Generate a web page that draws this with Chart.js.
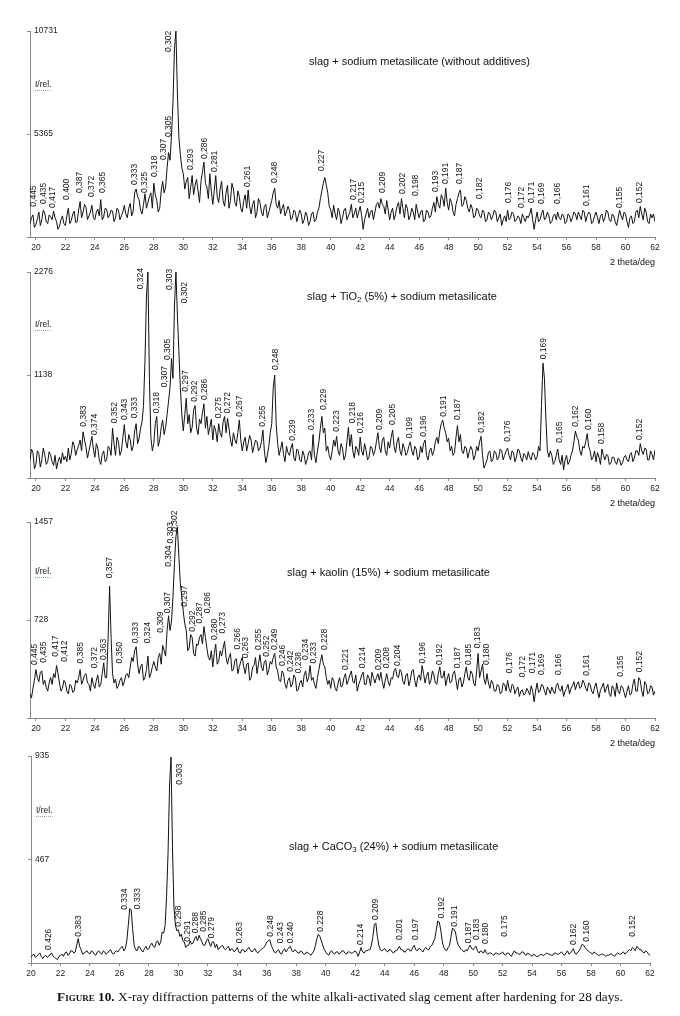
<!DOCTYPE html>
<html>
<head>
<meta charset="utf-8">
<title>XRD patterns</title>
<script src="https://cdn.jsdelivr.net/npm/chart.js@4.4.1/dist/chart.umd.min.js"></script>
<style>
  body { margin: 0; background: #fff; width: 680px; height: 1016px; position: relative; overflow: hidden; }
  .panel { position: absolute; left: 0; width: 680px; }
  #caption {
    position: absolute; left: 0; width: 680px; top: 989px; text-align: center;
    font: 13.3px "Liberation Serif", "Times New Roman", serif; color: #111;
  }
  #caption b { font-weight: bold; }
</style>
</head>
<body>
<div class="panel" style="top:0;height:275px"><canvas id="scanSlag"></canvas></div>
<div class="panel" style="top:250px;height:265px"><canvas id="scanTio"></canvas></div>
<div class="panel" style="top:500px;height:255px"><canvas id="scanKaolin"></canvas></div>
<div class="panel" style="top:740px;height:255px"><canvas id="scanCaco3"></canvas></div>
<div id="caption"><b><span style="font-variant:small-caps">Figure</span> 10.</b> X-ray diffraction patterns of the white alkali-activated slag cement after hardening for 28 days.</div>
<script>
const STEP = 0.1;
const THETA_END = 62;
const THETA_TICKS = [20, 22, 24, 26, 28, 30, 32, 34, 36, 38, 40, 42, 44, 46, 48, 50, 52, 54, 56, 58, 60, 62];

// slag + sodium metasilicate, 19.6 .. 62 deg, one row per 2 deg
const slagStart = 19.6;
const slagCounts = [
  700, 1000, 1150, 500,
  650, 950, 1300, 600, 900, 1400, 1250, 800, 700, 1150, 1050, 900, 1350, 1000, 800, 400, 550, 900, 1100, 700,
  600, 1100, 1500, 700, 850, 1200, 1350, 750, 800, 1400, 1850, 1000, 1300, 1700, 1550, 900, 1100, 1300, 1650, 1000,
  900, 1300, 1450, 1100, 1950, 900, 1050, 1500, 1450, 1000, 1150, 1400, 1350, 800, 1000, 1500, 1400, 900, 1100, 1300,
  1650, 1200, 1000, 1500, 1750, 1100, 1350, 2300, 2500, 2100, 1950, 1400, 1200, 1700, 2250, 1500, 1800, 2100, 2300, 1500,
  2800, 2200, 1900, 1300, 1500, 2400, 2900, 2300, 2600, 3600, 4400, 4000, 5300, 7000, 9800, 10731, 7500, 5200, 4300, 3600,
  3300, 2500, 2900, 3100, 2000, 2600, 3200, 2200, 2700, 3000, 2400, 1800, 2900, 3400, 3900, 2800, 2600, 2000, 3300, 2400,
  1700, 2400, 3200, 2100, 1800, 2500, 2900, 1900, 1600, 2300, 2700, 1500, 1900, 2800, 2500, 1800, 1600, 2400, 2100, 1500,
  1300, 1900, 2200, 1500, 2450, 1600, 1200, 1700, 1900, 1000, 1300, 2000, 1800, 1300, 1100, 1600, 1700, 1000, 1300, 1600,
  1900, 2300, 2550, 1700, 1500, 1900, 1200, 1500, 1700, 1100, 1300, 1600, 1400, 900, 1000, 1400, 1300, 800, 1100, 1400,
  1200, 700, 900, 1300, 1100, 600, 800, 1200, 1300, 800, 900, 1300, 1500, 2000, 2400, 2800, 3100, 2700, 2300, 1600,
  1400, 1000, 1650, 1200, 900, 1500, 1300, 700, 1000, 1400, 1500, 900, 1100, 1300, 1700, 1000, 1200, 1500, 1000, 1300,
  1600, 1100, 400, 900, 1200, 1500, 1000, 1300, 1400, 900, 1300, 1700, 1800, 1500, 2000, 1700, 1600, 1200, 1900, 1400,
  900, 1300, 1500, 900, 1200, 1600, 1800, 1200, 2000, 1500, 1000, 1700, 1500, 900, 1100, 1500, 1300, 900, 1700, 1300,
  1000, 1300, 1400, 800, 900, 1400, 1300, 1000, 1100, 1500, 1800, 1300, 2100, 1700, 1500, 2200, 2000, 1600, 2550, 1800,
  1400, 2000, 1800, 1300, 1100, 1700, 2000, 2300, 2450, 1600, 1700, 2100, 1900, 1500, 1300, 1700, 1500, 1000, 1100, 1500,
  1400, 1100, 1000, 1400, 1300, 800, 900, 1300, 1200, 900, 1100, 1400, 1300, 800, 1000, 1200, 600, 900, 1100, 800,
  1400, 900, 1000, 1300, 1200, 800, 900, 1100, 1000, 700, 1200, 1000, 800, 1100, 1000, 1200, 1500, 900, 400, 900,
  1300, 800, 900, 1200, 1400, 900, 1000, 1300, 1100, 700, 800, 1100, 1200, 900, 1300, 1000, 900, 1200, 1100, 700,
  800, 1200, 1100, 800, 1000, 1300, 1200, 900, 1300, 1100, 900, 1400, 1300, 800, 1100, 1300, 1200, 700, 800, 1100,
  1300, 1000, 700, 1100, 1200, 800, 1000, 1400, 1300, 900, 800, 1200, 1100, 800, 600, 1000, 1400, 1100, 900, 1300,
  1200, 800, 500, 1000, 1100, 700, 800, 1300, 1400, 1000, 1600, 1200, 900, 1500, 1300, 800, 700, 1200, 1000, 1200,
  800,
];
const slagYTicks = [0, 5365, 10731];
const slagPeakTheta = [19.82, 20.5, 21.17, 22.08, 22.94, 23.78, 24.5, 26.72, 27.39, 28.07, 28.68, 28.98, 29.04, 30.52, 31.47, 32.14, 34.38, 36.21, 39.4, 41.53, 42.1, 43.52, 44.88, 45.78, 47.12, 47.82, 48.76, 50.12, 52.04, 52.95, 53.65, 54.31, 55.41, 57.36, 59.62, 60.93];
const slagPeakLevel = [1580, 1720, 1510, 1930, 2290, 2080, 2290, 2710, 2290, 3130, 4010, 5210, 9640, 3490, 4060, 3390, 2600, 2810, 3440, 1930, 1770, 2290, 2240, 2140, 2340, 2760, 2760, 1980, 1770, 1510, 1770, 1720, 1720, 1620, 1510, 1770];
const slagPeakText = ["0,445", "0,435", "0,417", "0,400", "0,387", "0,372", "0,365", "0,333", "0,325", "0,318", "0,307", "0,305", "0,302", "0,293", "0,286", "0,281", "0,261", "0,248", "0,227", "0,217", "0,215", "0,209", "0,202", "0,198", "0,193", "0,191", "0,187", "0,182", "0,176", "0,172", "0,171", "0,169", "0,166", "0,161", "0,155", "0,152"];

// slag + TiO2 (5%)
const tioStart = 19.6;
const tioCounts = [
  200, 320, 280, 100,
  150, 300, 270, 120, 200, 330, 260, 150, 180, 290, 250, 180, 140, 250, 100, 180, 230, 160, 280, 200,
  240, 180, 330, 200, 270, 400, 360, 250, 310, 360, 420, 300, 510, 420, 340, 220, 300, 380, 460, 320,
  230, 380, 330, 200, 150, 260, 300, 180, 200, 350, 330, 250, 550, 380, 250, 450, 400, 250, 300, 450,
  590, 400, 330, 480, 420, 300, 350, 520, 600, 380, 440, 550, 620, 800, 1300, 2000, 2276, 1100, 450, 300,
  380, 600, 680, 350, 420, 560, 640, 480, 560, 700, 850, 1000, 1320, 1100, 1900, 2276, 1800, 1400, 1000, 700,
  520, 700, 880, 600, 700, 500, 560, 750, 800, 550, 480, 650, 600, 720, 820, 550, 680, 480, 560, 650,
  420, 580, 520, 400, 600, 500, 450, 620, 680, 500, 660, 550, 420, 350, 500, 420, 380, 500, 640, 420,
  300, 400, 450, 300, 380, 470, 420, 280, 350, 420, 400, 300, 330, 400, 530, 300, 170, 250, 350, 500,
  600, 1000, 1138, 600, 380, 250, 320, 400, 260, 180, 350, 280, 250, 330, 380, 220, 190, 320, 300, 200,
  180, 300, 250, 150, 200, 280, 300, 200, 480, 250, 170, 300, 400, 550, 680, 500, 550, 300, 350, 250,
  200, 300, 420, 350, 460, 300, 250, 380, 330, 200, 250, 400, 560, 350, 480, 300, 220, 350, 320, 250,
  450, 300, 250, 380, 300, 200, 230, 350, 330, 250, 300, 400, 500, 350, 280, 420, 450, 300, 250, 400,
  330, 450, 530, 350, 280, 400, 450, 300, 250, 380, 330, 250, 280, 350, 400, 300, 250, 350, 320, 200,
  230, 350, 280, 380, 420, 250, 200, 300, 330, 250, 300, 400, 450, 380, 520, 600, 640, 550, 500, 400,
  440, 300, 350, 250, 280, 450, 580, 400, 480, 300, 270, 350, 330, 220, 290, 350, 310, 200, 250, 350,
  300, 400, 460, 250, 110, 150, 200, 280, 300, 180, 200, 300, 280, 200, 230, 320, 300, 200, 250, 300,
  330, 250, 200, 300, 280, 180, 230, 320, 300, 220, 180, 270, 250, 200, 290, 230, 200, 280, 260, 200,
  230, 350, 300, 800, 1270, 1100, 650, 300, 230, 300, 250, 150, 180, 250, 320, 200, 150, 250, 90, 200,
  250, 150, 180, 250, 300, 400, 520, 450, 420, 300, 250, 350, 330, 400, 490, 350, 300, 200, 230, 300,
  180, 280, 230, 150, 320, 250, 200, 260, 250, 150, 160, 230, 230, 180, 150, 220, 200, 140, 170, 230,
  250, 200, 180, 260, 280, 180, 220, 300, 300, 250, 380, 300, 260, 330, 320, 200, 200, 300, 260, 200,
  310,
];
const tioYTicks = [0, 1138, 2276];
const tioPeakTheta = [23.26, 24.0, 25.31, 25.99, 26.72, 27.1, 28.19, 28.75, 28.93, 29.09, 30.06, 30.18, 30.79, 31.47, 32.37, 33.01, 33.79, 35.36, 36.24, 37.41, 38.7, 39.49, 40.4, 41.46, 42.03, 43.29, 44.17, 45.33, 46.32, 47.68, 48.58, 50.24, 51.98, 54.42, 55.5, 56.64, 57.47, 58.38, 60.98];
const tioPeakLevel = [567, 475, 604, 641, 660, 2085, 715, 1002, 1304, 2077, 1930, 954, 843, 862, 660, 715, 677, 567, 1193, 412, 530, 751, 512, 604, 494, 530, 586, 439, 456, 677, 641, 501, 401, 1311, 390, 567, 530, 376, 420];
const tioPeakText = ["0,383", "0,374", "0,352", "0,343", "0,333", "0,324", "0,318", "0,307", "0,305", "0,303", "0,302", "0,297", "0,292", "0,286", "0,275", "0,272", "0,267", "0,255", "0,248", "0,239", "0,233", "0,229", "0,223", "0,218", "0,216", "0,209", "0,205", "0,199", "0,196", "0,191", "0,187", "0,182", "0,176", "0,169", "0,165", "0,162", "0,160", "0,158", "0,152"];

// slag + kaolin (15%)
const kaolinStart = 19.6;
const kaolinCounts = [
  180, 150, 220, 280,
  360, 300, 270, 340, 350, 250, 280, 230, 200, 260, 300, 250, 330, 300, 390, 330, 260, 200, 220, 280,
  260, 200, 180, 250, 240, 190, 200, 280, 260, 300, 360, 250, 280, 320, 330, 260, 250, 200, 300, 250,
  220, 280, 320, 230, 250, 330, 410, 300, 300, 600, 980, 600, 330, 260, 290, 220, 240, 280, 300, 240,
  270, 320, 330, 300, 380, 450, 420, 500, 530, 400, 330, 380, 400, 280, 300, 360, 460, 300, 330, 380,
  420, 380, 350, 450, 480, 400, 540, 500, 460, 650, 760, 650, 720, 900, 1150, 1350, 1420, 1200, 1000, 900,
  790, 700, 650, 500, 520, 620, 600, 480, 460, 550, 540, 600, 620, 550, 680, 600, 520, 450, 430, 500,
  380, 480, 550, 400, 420, 500, 460, 520, 570, 450, 400, 450, 480, 350, 360, 430, 440, 330, 380, 420,
  450, 380, 330, 400, 410, 280, 300, 380, 390, 450, 330, 400, 470, 380, 350, 420, 430, 320, 360, 420,
  400, 450, 480, 380, 350, 280, 270, 350, 330, 250, 220, 280, 300, 230, 250, 320, 300, 200, 210, 260,
  280, 230, 320, 350, 270, 300, 390, 280, 300, 250, 220, 300, 360, 420, 470, 400, 380, 300, 250, 280,
  220, 300, 280, 220, 200, 260, 300, 230, 240, 300, 330, 250, 280, 320, 350, 270, 260, 320, 200, 250,
  280, 320, 340, 250, 250, 320, 300, 240, 340, 300, 260, 300, 330, 280, 340, 270, 220, 280, 330, 270,
  240, 300, 290, 350, 370, 310, 300, 360, 340, 270, 250, 320, 330, 240, 280, 350, 360, 280, 230, 300,
  320, 280, 390, 330, 260, 310, 340, 250, 280, 350, 320, 260, 250, 330, 380, 300, 300, 350, 240, 290,
  330, 260, 270, 330, 350, 280, 210, 290, 300, 230, 260, 330, 380, 300, 280, 350, 330, 260, 240, 350,
  480, 300, 350, 400, 290, 250, 330, 260, 220, 280, 260, 200, 200, 250, 240, 180, 190, 260, 250, 200,
  280, 220, 190, 250, 240, 180, 210, 230, 160, 200, 210, 170, 180, 220, 200, 170, 240, 200, 120, 200,
  260, 190, 200, 250, 240, 200, 170, 230, 210, 180, 230, 200, 180, 240, 260, 210, 200, 240, 160, 200,
  220, 250, 180, 220, 240, 270, 210, 250, 270, 220, 230, 280, 260, 220, 200, 260, 250, 200, 180, 230,
  260, 200, 150, 210, 230, 260, 190, 220, 250, 180, 160, 240, 220, 160, 260, 200, 180, 240, 230, 190,
  150, 200, 240, 170, 180, 250, 290, 200, 200, 300, 280, 200, 160, 270, 250, 180, 190, 240, 230, 170,
  200,
];
const kaolinYTicks = [0, 728, 1457];
const kaolinPeakTheta = [19.93, 20.5, 21.36, 21.97, 23.05, 23.96, 24.57, 25.02, 25.65, 26.78, 27.58, 28.48, 28.91, 28.98, 29.16, 29.43, 30.06, 30.63, 31.13, 31.65, 32.1, 32.67, 33.66, 34.25, 35.08, 35.65, 36.21, 36.74, 37.3, 37.8, 38.32, 38.81, 39.61, 41.03, 42.16, 43.22, 43.79, 44.51, 46.23, 47.41, 48.58, 49.33, 49.96, 50.58, 52.11, 53.02, 53.7, 54.31, 55.44, 57.36, 59.69, 60.93];
const kaolinPeakLevel = [394, 411, 455, 418, 406, 369, 431, 1038, 406, 555, 555, 634, 778, 1124, 1298, 1384, 827, 641, 703, 778, 580, 629, 510, 444, 505, 455, 505, 386, 344, 332, 431, 406, 505, 357, 369, 357, 369, 386, 406, 394, 369, 394, 518, 394, 332, 302, 332, 320, 320, 314, 307, 340];
const kaolinPeakText = ["0,445", "0,435", "0,417", "0,412", "0,385", "0,372", "0,363", "0,357", "0,350", "0,333", "0,324", "0,309", "0,307", "0,304", "0,303", "0,302", "0,297", "0,292", "0,287", "0,286", "0,280", "0,273", "0,266", "0,263", "0,255", "0,252", "0,249", "0,246", "0,242", "0,238", "0,234", "0,233", "0,228", "0,221", "0,214", "0,209", "0,208", "0,204", "0,196", "0,192", "0,187", "0,185", "0,183", "0,180", "0,176", "0,172", "0,171", "0,169", "0,166", "0,161", "0,155", "0,152"];

// slag + CaCO3 (24%), 20 .. 62 deg
const caco3Start = 20;
const caco3Counts = [
  25, 35, 40, 25, 30, 40, 45, 30, 20, 30, 35, 25, 30, 40, 45, 30, 25, 20, 15, 30,
  35, 40, 30, 45, 50, 35, 40, 55, 55, 45, 50, 80, 110, 75, 60, 40, 45, 50, 55, 45,
  40, 55, 50, 40, 35, 50, 55, 45, 40, 55, 50, 40, 45, 55, 60, 45, 40, 50, 55, 50,
  60, 70, 75, 55, 65, 100, 170, 245, 240, 150, 80, 60, 55, 75, 70, 55, 50, 65, 75, 60,
  65, 80, 90, 75, 70, 95, 100, 80, 95, 140, 135, 170, 300, 500, 800, 930, 520, 250, 170, 145,
  150, 120, 130, 100, 95, 70, 80, 80, 100, 85, 90, 110, 120, 100, 125, 110, 95, 80, 80, 100,
  110, 90, 75, 95, 95, 70, 85, 60, 70, 75, 80, 65, 60, 70, 75, 55, 65, 60, 50, 60,
  70, 50, 45, 60, 60, 50, 55, 65, 70, 55, 50, 60, 65, 50, 45, 55, 60, 65, 70, 80,
  95, 100, 105, 80, 65, 50, 45, 55, 60, 45, 40, 55, 65, 50, 60, 70, 75, 55, 50, 60,
  55, 45, 45, 55, 50, 40, 40, 50, 45, 40, 35, 45, 55, 80, 110, 130, 120, 100, 80, 60,
  50, 40, 35, 50, 55, 45, 40, 50, 50, 40, 45, 55, 55, 45, 40, 50, 50, 45, 45, 50,
  55, 45, 30, 50, 70, 50, 45, 55, 55, 60, 60, 80, 120, 175, 180, 120, 80, 60, 55, 60,
  65, 55, 50, 60, 60, 50, 45, 55, 55, 65, 75, 60, 60, 50, 50, 60, 65, 55, 55, 70,
  80, 60, 55, 65, 65, 55, 50, 65, 70, 60, 60, 75, 80, 95, 110, 150, 190, 185, 150, 100,
  70, 60, 55, 70, 80, 120, 158, 150, 140, 100, 80, 70, 60, 55, 50, 60, 55, 70, 80, 65,
  60, 70, 75, 55, 45, 55, 50, 45, 60, 45, 40, 45, 45, 40, 35, 45, 45, 40, 40, 45,
  50, 40, 35, 45, 45, 35, 30, 45, 55, 45, 45, 40, 40, 50, 50, 40, 35, 45, 40, 35,
  30, 40, 35, 30, 30, 35, 40, 35, 35, 40, 45, 40, 40, 35, 35, 45, 45, 40, 40, 45,
  50, 40, 35, 45, 55, 40, 45, 55, 65, 45, 40, 50, 55, 70, 85, 80, 70, 60, 55, 50,
  45, 40, 50, 45, 40, 35, 35, 40, 40, 35, 30, 35, 35, 40, 40, 35, 30, 40, 45, 40,
  40, 45, 50, 40, 45, 55, 60, 55, 70, 65, 55, 75, 70, 60, 60, 50, 45, 55, 50, 40,
  35,
];
const caco3YTicks = [0, 467, 935];
const caco3PeakTheta = [21.22, 23.26, 26.38, 27.24, 30.06, 30.04, 30.61, 31.17, 31.69, 32.26, 34.13, 36.28, 36.96, 37.64, 39.67, 42.37, 43.41, 45.03, 46.12, 47.86, 48.72, 49.67, 50.24, 50.85, 52.16, 56.84, 57.7, 60.82];
const caco3PeakLevel = [59, 119, 240, 243, 805, 164, 96, 134, 141, 112, 89, 119, 89, 89, 141, 81, 194, 104, 104, 202, 164, 89, 104, 86, 119, 81, 96, 119];
const caco3PeakText = ["0.426", "0.383", "0.334", "0.333", "0.303", "0.298", "0.291", "0.288", "0.285", "0.279", "0.263", "0.248", "0.243", "0.240", "0.228", "0.214", "0.209", "0.201", "0.197", "0.192", "0.191", "0.187", "0.183", "0.180", "0.175", "0.162", "0.160", "0.152"];

const SANS = '"Liberation Sans", Arial, Helvetica, sans-serif';
const INK = "#111";
const AXIS = "#8a8a8a";

function toPoints(start, counts) {
  return counts.map((c, i) => ({ x: Math.round((start + i * STEP) * 10) / 10, y: c }));
}

// d-spacing labels, sample name, I/rel. and axis caption
const xrdText = {
  id: "xrdText",
  afterDraw(chart, args, opts) {
    const { ctx, chartArea, scales } = chart;
    ctx.save();
    ctx.fillStyle = INK;

    ctx.font = "8.5px " + SANS;
    ctx.textAlign = "left";
    ctx.textBaseline = "middle";
    for (let i = 0; i < opts.peakTheta.length; i++) {
      const px = scales.x.getPixelForValue(opts.peakTheta[i]);
      const py = scales.y.getPixelForValue(opts.peakLevel[i]);
      ctx.save();
      ctx.translate(px, py);
      ctx.rotate(-Math.PI / 2);
      ctx.fillText(opts.peakText[i], 0, 0);
      ctx.restore();
    }

    // sample name, with subscripts
    let x = opts.titleX;
    opts.title.forEach((part) => {
      ctx.font = (part.sub ? "8px " : "11px ") + SANS;
      ctx.fillText(part.text, x, opts.titleY + (part.sub ? 3 : 0));
      x += ctx.measureText(part.text).width;
    });

    ctx.font = "8.5px " + SANS;
    ctx.fillText("I/rel.", chartArea.left + 5, opts.unitY);
    const w = ctx.measureText("I/rel.").width;
    ctx.strokeStyle = "#6bbf6b";
    ctx.lineWidth = 1;
    ctx.setLineDash([1, 1]);
    ctx.beginPath();
    ctx.moveTo(chartArea.left + 5, opts.unitY + 5.5);
    ctx.lineTo(chartArea.left + 5 + w, opts.unitY + 5.5);
    ctx.stroke();

    if (opts.axisTitle) {
      ctx.font = "9px " + SANS;
      ctx.textAlign = "right";
      ctx.fillText("2 theta/deg", chartArea.right, chartArea.bottom + 26);
    }
    ctx.restore();
  },
};

function drawScan(canvasId, scan) {
  const ctx = document.getElementById(canvasId).getContext("2d");
  return new Chart(ctx, {
    type: "line",
    data: {
      datasets: [
        {
          data: toPoints(scan.start, scan.counts),
          borderColor: INK,
          borderWidth: 1,
          pointRadius: 0,
          tension: 0,
        },
      ],
    },
    options: {
      responsive: true,
      maintainAspectRatio: false,
      animation: false,
      events: [],
      layout: { padding: scan.padding },
      plugins: {
        legend: { display: false },
        tooltip: { enabled: false },
        xrdText: {
          peakTheta: scan.peakTheta,
          peakLevel: scan.peakLevel,
          peakText: scan.peakText,
          title: scan.title,
          titleX: scan.titleX,
          titleY: scan.titleY,
          unitY: scan.unitY,
          axisTitle: scan.axisTitle,
        },
      },
      scales: {
        x: {
          type: "linear",
          min: scan.start,
          max: THETA_END,
          afterBuildTicks: (s) => {
            s.ticks = THETA_TICKS.map((v) => ({ value: v }));
          },
          afterFit: (s) => {
            s.height = 30;
          },
          ticks: {
            autoSkip: false,
            maxRotation: 0,
            padding: 3,
            color: "#222",
            font: { family: SANS, size: 8.5 },
            callback: (v) => String(v),
          },
          grid: { drawOnChartArea: false, tickLength: 3, color: AXIS },
          border: { color: AXIS, width: 1 },
        },
        y: {
          min: 0,
          max: scan.yTicks[2],
          afterBuildTicks: (s) => {
            s.ticks = scan.yTicks.map((v) => ({ value: v }));
          },
          afterFit: (s) => {
            s.width = 0;
          },
          ticks: {
            mirror: true,
            padding: 4,
            color: "#222",
            font: { family: SANS, size: 8.5 },
            callback: (v) => (v === 0 ? "" : String(v)),
          },
          grid: { drawOnChartArea: false, tickLength: 3, color: AXIS },
          border: { color: AXIS, width: 1 },
        },
      },
    },
    plugins: [xrdText],
  });
}

drawScan("scanSlag", {
  start: slagStart,
  counts: slagCounts,
  yTicks: slagYTicks,
  peakTheta: slagPeakTheta,
  peakLevel: slagPeakLevel,
  peakText: slagPeakText,
  title: [{ text: "slag + sodium metasilicate (without additives)" }],
  titleX: 309,
  titleY: 62,
  unitY: 85,
  axisTitle: true,
  padding: { left: 30, right: 25, top: 31, bottom: 8 },
});

drawScan("scanTio", {
  start: tioStart,
  counts: tioCounts,
  yTicks: tioYTicks,
  peakTheta: tioPeakTheta,
  peakLevel: tioPeakLevel,
  peakText: tioPeakText,
  title: [{ text: "slag + TiO" }, { text: "2", sub: true }, { text: " (5%) + sodium metasilicate" }],
  titleX: 307,
  titleY: 47,
  unitY: 75,
  axisTitle: true,
  padding: { left: 30, right: 25, top: 22, bottom: 7 },
});

drawScan("scanKaolin", {
  start: kaolinStart,
  counts: kaolinCounts,
  yTicks: kaolinYTicks,
  peakTheta: kaolinPeakTheta,
  peakLevel: kaolinPeakLevel,
  peakText: kaolinPeakText,
  title: [{ text: "slag + kaolin (15%) + sodium metasilicate" }],
  titleX: 287,
  titleY: 73,
  unitY: 72,
  axisTitle: true,
  padding: { left: 30, right: 25, top: 22, bottom: 7 },
});

drawScan("scanCaco3", {
  start: caco3Start,
  counts: caco3Counts,
  yTicks: caco3YTicks,
  peakTheta: caco3PeakTheta,
  peakLevel: caco3PeakLevel,
  peakText: caco3PeakText,
  title: [{ text: "slag + CaCO" }, { text: "3", sub: true }, { text: " (24%) + sodium metasilicate" }],
  titleX: 289,
  titleY: 107,
  unitY: 71,
  axisTitle: false,
  padding: { left: 31, right: 30, top: 16, bottom: 2 },
});
</script>
</body>
</html>
